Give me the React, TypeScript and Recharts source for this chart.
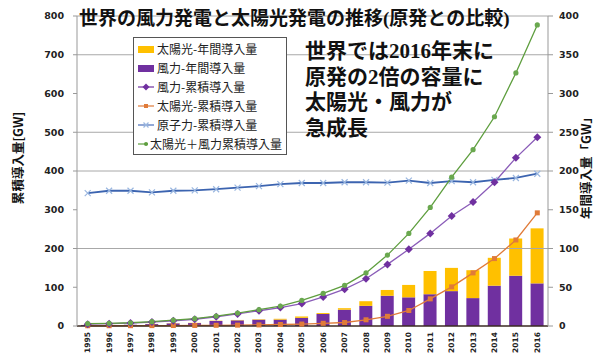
import {
  ComposedChart,
  Bar,
  Line,
  XAxis,
  YAxis,
  ReferenceLine,
  Legend,
} from "recharts";

const years = [
  "1995", "1996", "1997", "1998", "1999", "2000", "2001", "2002", "2003", "2004", "2005",
  "2006", "2007", "2008", "2009", "2010", "2011", "2012", "2013", "2014", "2015", "2016",
];

// 年間導入量 (right axis, GW)
const solarAnnual = [0.1, 0.1, 0.1, 0.2, 0.3, 0.3, 0.4, 0.5, 0.6, 1.1, 1.8, 1.2, 2, 6, 7.5, 16, 30, 30, 36, 36, 48, 71];
const windAnnual = [1.3, 1.3, 1.5, 2.5, 3.4, 3.8, 6.5, 7.3, 8.1, 8.2, 10.5, 15.5, 21, 26, 39, 37, 41, 45, 36, 52, 65, 55];

// 累積導入量 (left axis, GW)
const windCumulative = [4.8, 6.1, 7.6, 10.2, 13.6, 17.4, 23.9, 31.1, 39.4, 47.6, 58, 75, 95, 122, 159, 198, 239, 284, 320, 371, 434, 487];
const solarCumulative = [0.6, 0.7, 0.8, 1.0, 1.2, 1.4, 1.8, 2.2, 2.8, 3.9, 5, 7, 9, 16, 25, 40, 70, 101, 137, 174, 222, 292];
const nuclearCumulative = [343, 349, 349, 345, 349, 350, 353, 357, 361, 366, 369, 369, 371, 371, 370, 375, 369, 374, 371, 377, 382, 393];
const totalCumulative = [6, 7, 8.4, 11.2, 15, 19, 25.7, 33.3, 42.2, 51.5, 66, 84, 105, 137, 183, 239, 306, 384, 455, 540, 653, 777];

const leftTicks = [0, 100, 200, 300, 400, 500, 600, 700, 800];
const rightTicks = [0, 50, 100, 150, 200, 250, 300, 350, 400];
const gridValues = [200, 400, 500, 700, 800];

const titleText = "世界の風力発電と太陽光発電の推移(原発との比較)";
const noteLines = ["世界では2016年末に", "原発の2倍の容量に", "太陽光・風力が", "急成長"];
const leftAxisLabel = "累積導入量[GW]";
const rightAxisLabel = "年間導入量「GW」";

const data = years.map((year, i) => ({
  year,
  solarAnnual: solarAnnual[i],
  windAnnual: windAnnual[i],
  windCumulative: windCumulative[i],
  solarCumulative: solarCumulative[i],
  nuclearCumulative: nuclearCumulative[i],
  totalCumulative: totalCumulative[i],
}));

const JP = "'Noto Sans CJK JP', sans-serif";
const MIXED = "'Liberation Serif', 'Noto Sans CJK JP', serif";
const TICK_FONT = "'DejaVu Sans', sans-serif";

const legendItems = [
  { name: "太陽光-年間導入量", color: "#FFC000", kind: "bar" },
  { name: "風力-年間導入量", color: "#7030A0", kind: "bar" },
  { name: "風力-累積導入量", color: "#7030A0", kind: "diamond" },
  { name: "太陽光-累積導入量", color: "#E07B39", kind: "square" },
  { name: "原子力-累積導入量", color: "#4A70BA", kind: "cross" },
  { name: "太陽光＋風力累積導入量", color: "#5E9E3E", kind: "dot" },
];

function LegendIcon({ kind, color }: { kind: string; color: string }) {
  if (kind === "bar") {
    return (
      <svg width={18} height={10}>
        <rect x={1} y={2} width={16} height={7} fill={color} />
      </svg>
    );
  }
  return (
    <svg width={18} height={10}>
      <line x1={1} y1={5} x2={17} y2={5} stroke={color} strokeWidth={1.2} />
      {kind === "diamond" && <path d="M9 1.5 L12.5 5 L9 8.5 L5.5 5 Z" fill={color} />}
      {kind === "square" && <rect x={7} y={3} width={4} height={4} fill={color} />}
      {kind === "dot" && <circle cx={9} cy={5} r={2} fill={color} />}
      {kind === "cross" && (
        <path d="M6.5 2.5 L11.5 7.5 M11.5 2.5 L6.5 7.5" stroke="#9ab7e0" strokeWidth={1.2} />
      )}
    </svg>
  );
}

function ChartLegend() {
  return (
    <div
      style={{
        border: "1px solid #555",
        background: "#fff",
        padding: "1px 4px 1px 3px",
        fontFamily: JP,
        fontSize: 12,
        color: "#222",
        width: 154,
        boxSizing: "border-box",
      }}
    >
      {legendItems.map((item) => (
        <div key={item.name} style={{ display: "flex", alignItems: "center", height: 19 }}>
          <LegendIcon kind={item.kind} color={item.color} />
          <span style={{ marginLeft: 2, whiteSpace: "nowrap" }}>{item.name}</span>
        </div>
      ))}
    </div>
  );
}

function YearTick({ x, y, payload }: any) {
  return (
    <text
      x={x}
      y={y}
      transform={`rotate(-90 ${x} ${y})`}
      textAnchor="end"
      dominantBaseline="central"
      fontSize={7.5}
      fontWeight="bold"
      fontFamily={TICK_FONT}
      fill="#222"
    >
      {payload.value}
    </text>
  );
}

const Diamond = ({ cx, cy }: any) =>
  cx == null ? null : (
    <path d={`M${cx} ${cy - 4} L${cx + 4} ${cy} L${cx} ${cy + 4} L${cx - 4} ${cy} Z`} fill="#7030A0" />
  );
const Square = ({ cx, cy }: any) =>
  cx == null ? null : <rect x={cx - 2.5} y={cy - 2.5} width={5} height={5} fill="#E07B39" />;
const Cross = ({ cx, cy }: any) =>
  cx == null ? null : (
    <path
      d={`M${cx - 3} ${cy - 3} L${cx + 3} ${cy + 3} M${cx + 3} ${cy - 3} L${cx - 3} ${cy + 3}`}
      stroke="#9ab7e0"
      strokeWidth={1.2}
    />
  );
const Dot = ({ cx, cy }: any) =>
  cx == null ? null : <circle cx={cx} cy={cy} r={2.6} fill="#6aa84f" />;

export default function App() {
  return (
    <div style={{ position: "absolute", left: 0, top: 0, width: 600, height: 353, background: "#fff" }}>
      <ComposedChart
        width={600}
        height={353}
        data={data}
        margin={{ top: 16, right: 0, bottom: 0, left: 0 }}
      >
        <XAxis
          dataKey="year"
          xAxisId={0}
          height={27}
          interval={0}
          tickLine={false}
          tickSize={0}
          tickMargin={6}
          tick={<YearTick />}
          axisLine={{ stroke: "#3a2a22", strokeWidth: 1.5 }}
        />
        <YAxis
          yAxisId="left"
          width={77}
          domain={[0, 800]}
          ticks={leftTicks}
          interval={0}
          tickSize={4}
          tickMargin={9}
          tickLine={{ stroke: "#999" }}
          axisLine={{ stroke: "#999" }}
          tick={{ fontSize: 9.5, fontWeight: "bold", fill: "#222", fontFamily: TICK_FONT }}
        />
        <YAxis
          yAxisId="right"
          orientation="right"
          width={52}
          domain={[0, 400]}
          ticks={rightTicks}
          interval={0}
          tickSize={5}
          tickMargin={6}
          tickLine={{ stroke: "#999" }}
          axisLine={{ stroke: "#999" }}
          tick={{ fontSize: 9.5, fontWeight: "bold", fill: "#222", fontFamily: TICK_FONT }}
        />
        {gridValues.map((v) => (
          <ReferenceLine key={v} yAxisId="left" y={v} stroke="#a8a8a8" strokeWidth={1} />
        ))}
        <Bar yAxisId="right" dataKey="windAnnual" stackId="annual" fill="#7030A0" barSize={13} isAnimationActive={false} />
        <Bar yAxisId="right" dataKey="solarAnnual" stackId="annual" fill="#FFC000" barSize={13} isAnimationActive={false} />
        <Line
          yAxisId="left"
          dataKey="nuclearCumulative"
          stroke="#3c64b0"
          strokeWidth={1.8}
          dot={<Cross />}
          activeDot={false}
          isAnimationActive={false}
        />
        <Line
          yAxisId="left"
          dataKey="solarCumulative"
          stroke="#E07B39"
          strokeWidth={1.3}
          dot={<Square />}
          activeDot={false}
          isAnimationActive={false}
        />
        <Line
          yAxisId="left"
          dataKey="windCumulative"
          stroke="#8a5cb8"
          strokeWidth={1.3}
          dot={<Diamond />}
          activeDot={false}
          isAnimationActive={false}
        />
        <Line
          yAxisId="left"
          dataKey="totalCumulative"
          stroke="#5e9e3e"
          strokeWidth={1.3}
          dot={<Dot />}
          activeDot={false}
          isAnimationActive={false}
        />
        <Legend
          layout="vertical"
          align="center"
          verticalAlign="middle"
          content={<ChartLegend />}
          wrapperStyle={{ left: 133, top: 37, width: 155 }}
        />
      </ComposedChart>
      <svg
        width={600}
        height={353}
        style={{ position: "absolute", left: 0, top: 0, pointerEvents: "none" }}
      >
        <text x={79} y={25} fontSize={19} fontWeight="bold" fontFamily={MIXED} fill="#111">
          {titleText}
        </text>
        {noteLines.map((line, i) => (
          <text key={line} x={305} y={58 + i * 25.7} fontSize={21} fontWeight="bold" fontFamily={MIXED} fill="#111">
            {line}
          </text>
        ))}
        <text
          transform="translate(23 158) rotate(-90)"
          textAnchor="middle"
          fontSize={12.5}
          fontWeight="bold"
          fontFamily={JP}
          fill="#111"
        >
          {leftAxisLabel}
        </text>
        <text
          transform="translate(591 165) rotate(-90)"
          textAnchor="middle"
          fontSize={12.5}
          fontWeight="bold"
          fontFamily={JP}
          fill="#111"
        >
          {rightAxisLabel}
        </text>
      </svg>
    </div>
  );
}
